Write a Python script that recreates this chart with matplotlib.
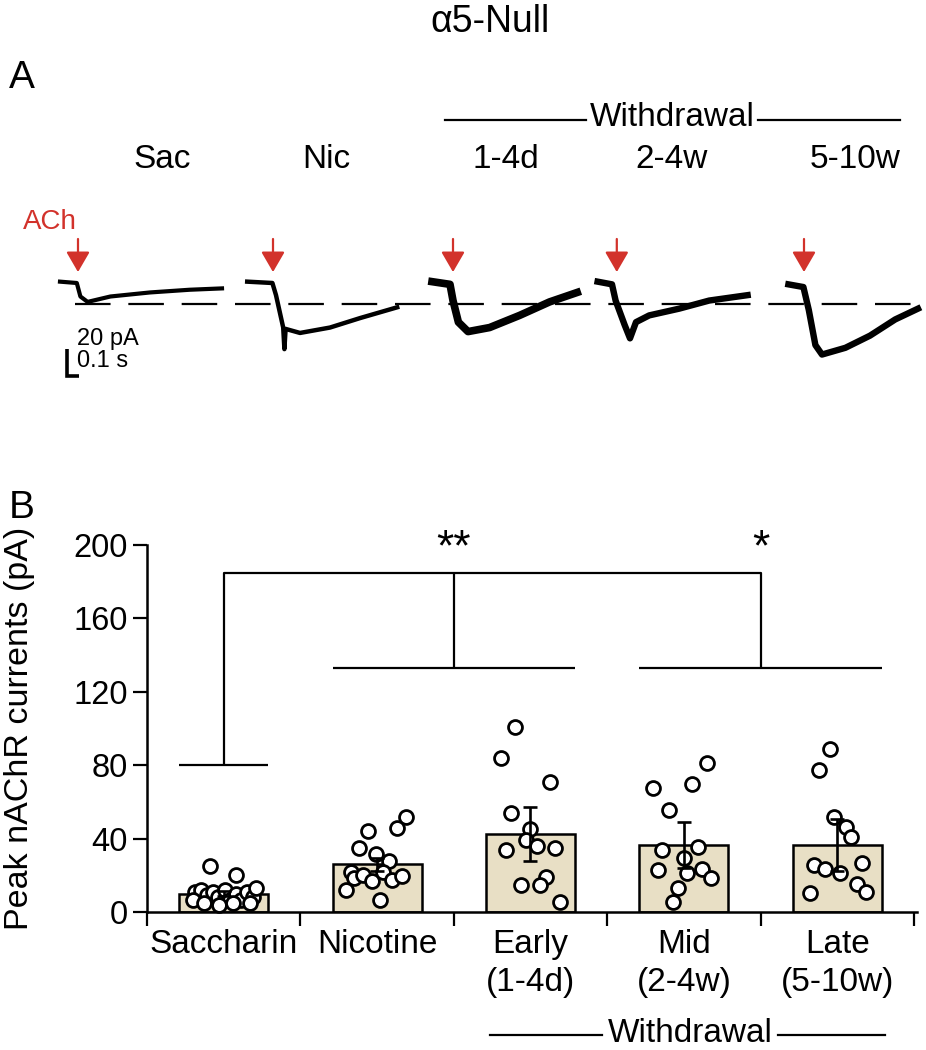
import numpy as np
import matplotlib
matplotlib.use("Agg")
import matplotlib.pyplot as plt

plt.rcParams['font.family'] = ['Liberation Sans', 'DejaVu Sans']

# ---- panel B data ----
groups = ['Saccharin', 'Nicotine', 'Early\n(1-4d)', 'Mid\n(2-4w)', 'Late\n(5-10w)']
means = [10, 26, 42.5, 36.7, 36.5]
sems = [1.2, 3.5, 14.5, 12.5, 14]

sac_vals = [25, 20, 11, 12, 9.3, 11, 8.4, 12, 6.5, 10, 6.5, 11, 8.4, 13, 6.5, 4.7, 3.8, 4.7, 4.7]
sac_jit = [-0.09, 0.08, -0.19, -0.145, -0.11, -0.07, -0.04, 0.01, 0.04, 0.08, 0.11, 0.15, 0.19, 0.21,
           -0.2, -0.13, -0.03, 0.06, 0.17]
nic_vals = [51.6, 46, 44, 35, 31.4, 27.8, 22, 18.7, 20, 17, 22, 17.4, 19.6, 12, 6.5]
nic_jit = [0.19, 0.13, -0.06, -0.12, -0.01, 0.08, -0.17, -0.15, -0.09, -0.03, 0.04, 0.10, 0.16, -0.2, 0.02]
early_vals = [101, 83.7, 71, 53.8, 45, 39.2, 36, 33.8, 34.7, 19.3, 14.7, 14.7, 5.6]
early_jit = [-0.10, -0.19, 0.13, -0.13, 0.0, -0.03, 0.04, -0.16, 0.16, 0.10, 0.06, -0.06, 0.19]
mid_vals = [81, 67.4, 69.8, 55.6, 33.8, 35.6, 29.2, 22.9, 21.4, 23.2, 18.3, 12.9, 5.6]
mid_jit = [0.15, -0.2, 0.05, -0.1, -0.14, 0.09, 0.0, -0.17, 0.02, 0.12, 0.18, -0.04, -0.07]
late_vals = [88.7, 77.4, 51.6, 46.5, 40.7, 25.6, 23.2, 21.4, 26.5, 15.3, 11, 10.5]
late_jit = [-0.05, -0.12, -0.02, 0.06, 0.09, -0.15, -0.08, 0.02, 0.16, 0.13, 0.19, -0.18]

points = [sac_vals, nic_vals, early_vals, mid_vals, late_vals]
jitters = [sac_jit, nic_jit, early_jit, mid_jit, late_jit]

# ---- panel A traces: time (s) from trace start, current (pA) ----
trace_labels = ['Sac', 'Nic', '1-4d', '2-4w', '5-10w']
trace_start = [0.50, 2.06, 3.60, 4.98, 6.57]
sac_t = [0, 0.14, 0.17, 0.23, 0.42, 0.75, 1.08, 1.35]
sac_i = [1, 0, -10, -14, -10, -7, -5, -4]
nic_t = [0, 0.21, 0.24, 0.30, 0.31, 0.32, 0.44, 0.69, 0.94, 1.25]
nic_i = [1, 0, -9, -33, -49, -34, -37, -33, -26, -18]
d14_t = [0, 0.15, 0.175, 0.22, 0.30, 0.48, 0.73, 0.98, 1.21]
d14_i = [1, -1, -13, -29, -36, -33, -24, -14, -7]
w24_t = [0, 0.12, 0.15, 0.225, 0.27, 0.32, 0.43, 0.68, 0.93, 1.25]
w24_i = [1, -1, -13, -31, -41, -29, -24, -19, -13, -9]
w510_t = [0, 0.125, 0.17, 0.225, 0.28, 0.475, 0.68, 0.89, 1.08]
w510_i = [-1, -3, -20, -46, -53, -48, -39, -27, -19]
traces_t = [sac_t, nic_t, d14_t, w24_t, w510_t]
traces_i = [sac_i, nic_i, d14_i, w24_i, w510_i]
ach_times = [0.65, 2.275, 3.775, 5.14, 6.70]
sac_peak = -15.6

W, H = 926, 1050
fig = plt.figure(figsize=(W / 100, H / 100), dpi=100)
fig.patch.set_facecolor('white')


def ftext(px, py, s, **kw):
    fig.text(px / W, 1 - py / H, s, **kw)


red = '#d2322b'
beige = '#e8dfc5'

ftext(490, 22, 'α5-Null', fontsize=27, ha='center', va='center')
ftext(22, 78, 'A', fontsize=28, ha='center', va='center')
ftext(22, 508, 'B', fontsize=28, ha='center', va='center')

# ---------------- panel A ----------------
axa = fig.add_axes([0, (H - 400) / H, 1, 200 / H])
axa.set_xlim(0, W / 120)
axa.set_ylim(-86.67, 61.48)
axa.axis('off')

lws = [3.0, 3.2, 5.5, 4.6, 4.6]
for st, tt, ii, lw in zip(trace_start, traces_t, traces_i, lws):
    axa.plot(np.array(tt) + st, ii, color='black', lw=lw, solid_joinstyle='round')

axa.plot([0.625, 7.65], [sac_peak, sac_peak], color='black', lw=1.6, dashes=(16, 8))

for t in ach_times:
    axa.annotate('', xy=(t, 8.1), xytext=(t, 32.6),
                 arrowprops=dict(arrowstyle='-|>,head_width=0.36,head_length=0.62',
                                 mutation_scale=20, color=red, lw=1.6,
                                 shrinkA=0, shrinkB=0))

# scale bar 20 pA / 0.1 s
axa.plot([0.558, 0.558, 0.658], [-48.9, -68.9, -68.9], color='black', lw=2.6,
         solid_joinstyle='miter', solid_capstyle='butt')
axa.text(0.642, -41.5, '20 pA', fontsize=17, ha='left', va='center')
axa.text(0.642, -57.8, '0.1 s', fontsize=17, ha='left', va='center')

ftext(50, 222, 'ACh', fontsize=20, color=red, ha='center', va='center')

label_x = [162, 326, 506, 672, 855]
for lx, lab in zip(label_x, trace_labels):
    ftext(lx, 160, lab, fontsize=24, ha='center', va='center')

ftext(672, 117, 'Withdrawal', fontsize=24, ha='center', va='center')
fig.add_artist(plt.Line2D([445 / W, 586 / W], [1 - 120 / H] * 2, color='black', lw=1.6))
fig.add_artist(plt.Line2D([758 / W, 900 / W], [1 - 120 / H] * 2, color='black', lw=1.6))

# ---------------- panel B ----------------
axb = fig.add_axes([147 / W, (H - 912) / H, 770 / W, 367 / H])
x = np.arange(len(groups))
axb.bar(x, means, width=0.58, color=beige, edgecolor='black', linewidth=1.8, zorder=2)
for i, (vals, jit) in enumerate(zip(points, jitters)):
    axb.plot(i + np.array(jit), vals, 'o', ms=10, mfc='white', mec='black', mew=2.0,
             zorder=3, clip_on=False)
axb.errorbar(x, means, yerr=sems, fmt='none', ecolor='black', elinewidth=1.9,
             capsize=5, capthick=1.9, zorder=4)

axb.set_xlim(-0.5, 4.52)
axb.set_ylim(0, 200)
axb.set_yticks([0, 40, 80, 120, 160, 200])
axb.set_xticks(np.arange(-0.5, 5, 1))
axb.set_xticklabels([])
axb.tick_params(axis='both', direction='out', length=10, width=1.6, labelsize=23.5)
axb.tick_params(axis='y', pad=4)
for sp in ['top', 'right']:
    axb.spines[sp].set_visible(False)
for sp in ['left', 'bottom']:
    axb.spines[sp].set_linewidth(1.8)

for i, g in enumerate(groups):
    axb.text(i, -9, g, fontsize=24, ha='center', va='top', linespacing=1.3,
             clip_on=False)

axb.set_ylabel('Peak nAChR currents (pA)', fontsize=24.5)
axb.yaxis.set_label_coords(-0.145, 0.5)

# significance brackets
bk = dict(color='black', lw=1.6, clip_on=False, solid_capstyle='butt')
axb.plot([-0.29, 0.29], [80, 80], **bk)
axb.plot([0, 0, 3.5, 3.5], [80, 185, 185, 133], **bk)
axb.plot([1.5, 1.5], [185, 133], **bk)
axb.plot([0.71, 2.29], [133, 133], **bk)
axb.plot([2.71, 4.29], [133, 133], **bk)
axb.text(1.5, 198, '**', fontsize=32, ha='center', va='center', clip_on=False)
axb.text(3.5, 198, '*', fontsize=32, ha='center', va='center', clip_on=False)

ftext(690, 1033, 'Withdrawal', fontsize=24, ha='center', va='center')
fig.add_artist(plt.Line2D([490 / W, 602 / W], [1 - 1035 / H] * 2, color='black', lw=1.6))
fig.add_artist(plt.Line2D([778 / W, 885 / W], [1 - 1035 / H] * 2, color='black', lw=1.6))

fig.savefig('out.png', dpi=100, facecolor='white')
